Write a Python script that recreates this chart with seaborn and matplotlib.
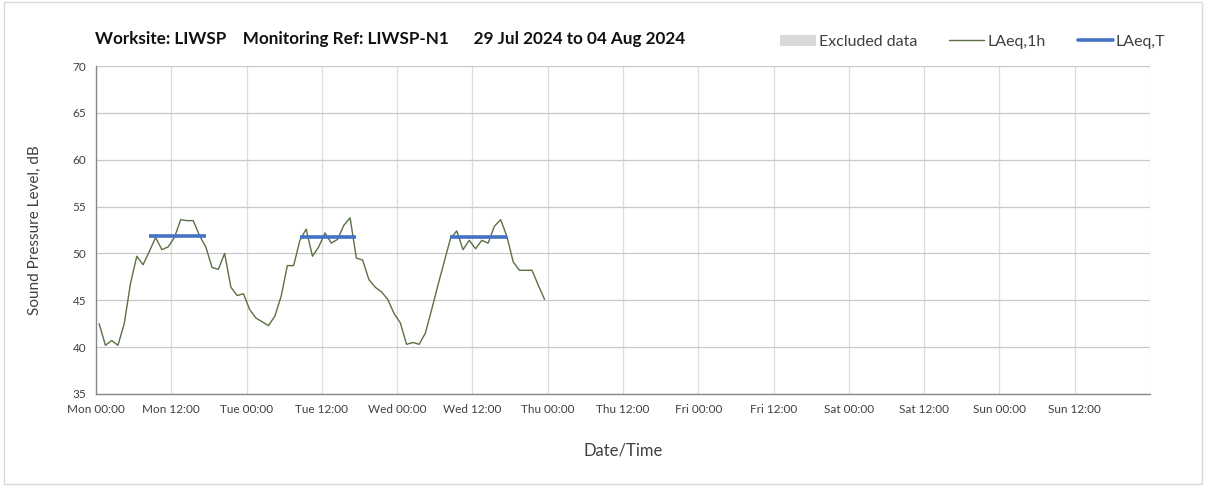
import numpy as np
import pandas as pd
import matplotlib
matplotlib.use("Agg")
import matplotlib.pyplot as plt
from matplotlib.patches import Patch, Rectangle
from matplotlib.lines import Line2D
import seaborn as sns

# hourly LAeq,1h values, Mon 00:00 -> Thu 00:00 (plotted at the middle of each hour)
laeq_1h = [42.5, 40.2, 40.7, 40.2, 42.5, 46.8, 49.7, 48.8, 50.2, 51.7,
           50.4, 50.7, 51.7, 53.6, 53.5, 53.5, 51.9, 50.7, 48.5, 48.3,
           50.0, 46.4, 45.5, 45.7, 44.0, 43.1, 42.7, 42.3, 43.3, 45.4,
           48.7, 48.7, 51.4, 52.6, 49.7, 50.7, 52.2, 51.1, 51.5, 53.0,
           53.8, 49.5, 49.3, 47.2, 46.4, 45.9, 45.1, 43.6, 42.6, 40.3,
           40.5, 40.3, 41.5, 44.0, 46.6, 49.1, 51.6, 52.4, 50.4, 51.4,
           50.5, 51.4, 51.1, 52.9, 53.6, 51.8, 49.1, 48.2, 48.2, 48.2,
           46.6, 45.1]
hours = np.arange(len(laeq_1h)) + 0.5

# daytime LAeq,T periods (hour positions) and levels
laeq_t_start = [8.5, 32.5, 56.5]
laeq_t_end = [17.5, 41.5, 65.5]
laeq_t_value = [51.9, 51.8, 51.7]

tick_hours = list(range(0, 168, 12))
tick_labels = ["Mon 00:00", "Mon 12:00", "Tue 00:00", "Tue 12:00", "Wed 00:00",
               "Wed 12:00", "Thu 00:00", "Thu 12:00", "Fri 00:00", "Fri 12:00",
               "Sat 00:00", "Sat 12:00", "Sun 00:00", "Sun 12:00"]

green = "#5b7044"
blue = "#4472c4"
text_col = "#404040"

sns.set_style("white")
plt.rcParams['font.family'] = ['Lato', 'DejaVu Sans']

fig = plt.figure(figsize=(12.08, 4.86), dpi=100)
ax = fig.add_axes([96 / 1208, 1 - 394 / 486, (1150 - 96) / 1208, (394 - 66) / 486])

df = pd.DataFrame({"hour": hours, "LAeq": laeq_1h})
sns.lineplot(data=df, x="hour", y="LAeq", color=green, linewidth=1.0, ax=ax)

for s, e, v in zip(laeq_t_start, laeq_t_end, laeq_t_value):
    ax.plot([s, e], [v, v], color=blue, linewidth=2.6, solid_capstyle="butt")

ax.set_xlim(0, 168)
ax.set_ylim(35, 70)
ax.set_xticks(tick_hours + [168])
ax.set_xticklabels(tick_labels + [""], fontsize=8.5, color=text_col)
ax.set_yticks(range(35, 71, 5))
ax.set_yticklabels([str(v) for v in range(35, 71, 5)], fontsize=8.5, color=text_col)
ax.grid(True, axis="y", color="#c8c8c8", linewidth=0.9)
ax.grid(True, axis="x", color="#dcdcdc", linewidth=0.9)
ax.tick_params(axis="both", direction="out", length=4, width=0.8, color="#888888", pad=3)
for side in ["top", "right"]:
    ax.spines[side].set_visible(False)
for side in ["left", "bottom"]:
    ax.spines[side].set_color("#888888")
    ax.spines[side].set_linewidth(1.0)

ax.set_xlabel("Date/Time", fontsize=12, color=text_col, labelpad=20)
ax.set_ylabel("Sound Pressure Level, dB", fontsize=11, color=text_col, labelpad=22)

fig.text(95 / 1208, 1 - 39 / 486,
         "Worksite: LIWSP    Monitoring Ref: LIWSP-N1      29 Jul 2024 to 04 Aug 2024",
         fontsize=12.3, fontweight="bold", color="#111111", ha="left", va="center")

handles = [Patch(facecolor="#d9d9d9", edgecolor="none"),
           Line2D([0], [0], color=green, linewidth=1.0),
           Line2D([0], [0], color=blue, linewidth=2.6)]
labels = ["Excluded data", "LAeq,1h", "LAeq,T"]
fig.legend(handles, labels, loc="center right", bbox_to_anchor=(1180 / 1208, 1 - 42 / 486),
           ncol=3, frameon=False, fontsize=11.5, handlelength=2.2, handletextpad=0.2,
           columnspacing=2.0, labelcolor=text_col)

# outer chart border
fig.patches.append(Rectangle((4 / 1208, 2 / 486), 1198 / 1208, 482 / 486,
                             transform=fig.transFigure, fill=False,
                             edgecolor="#d9d9d9", linewidth=1.0))

fig.savefig("out.png", dpi=100)
